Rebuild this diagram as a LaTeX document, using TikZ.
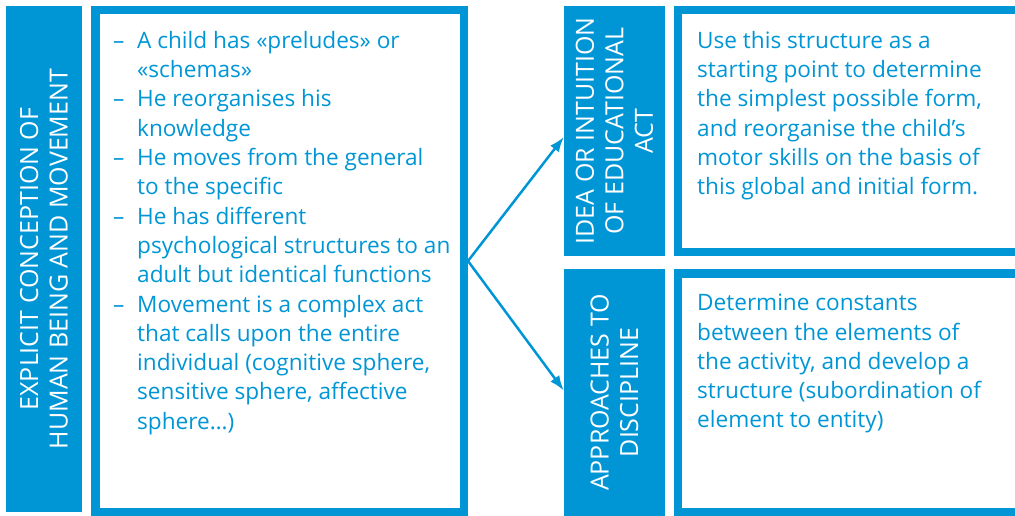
\documentclass[tikz,border=0pt]{standalone}
\usepackage{fontspec}
\setmainfont{Open Sans}
\usetikzlibrary{arrows.meta}

\definecolor{edublue}{RGB}{0,150,214}
\newcommand{\itemdash}{\makebox[24pt][l]{--}}
\newcommand{\itemgap}{\hspace*{24pt}}

\tikzset{
    bar/.style={fill=edublue, text=white, inner sep=0pt, align=center, rotate=90,
        font=\fontsize{25}{29.5}\selectfont},
    framebox/.style={draw=edublue, line width=8.5pt, inner sep=0pt},
    body/.style={text=edublue, align=left, anchor=north west, inner sep=0pt,
        font=\fontsize{22.6}{29.3}\selectfont},
    link/.style={draw=edublue, line width=2.5pt, -{Latex[length=15pt,width=11pt]}}
}

\begin{document}
\begin{tikzpicture}[x=1pt,y=-1pt]
        \useasboundingbox (0,0) rectangle (1015,516);
        \clip (0,0) rectangle (1015,516);

        \node[bar, minimum width=506pt, minimum height=76pt] (concept) at (44,259)
            {EXPLICIT CONCEPTION OF\\HUMAN BEING AND MOVEMENT};

        \node[framebox, minimum width=368.5pt, minimum height=501.5pt] (child) at (279.5,261) {};
        \node[body] (childtext) at (113,31) {
            \itemdash A child has «preludes» or\\
            \itemgap «schemas»\\
            \itemdash He reorganises his\\
            \itemgap knowledge\\
            \itemdash He moves from the general\\
            \itemgap to the specific\\
            \itemdash He has different\\
            \itemgap psychological structures to an\\
            \itemgap adult but identical functions\\
            \itemdash Movement is a complex act\\
            \itemgap that calls upon the entire\\
            \itemgap individual (cognitive sphere,\\
            \itemgap sensitive sphere, affective\\
            \itemgap sphere…)
        };

        \node[bar, minimum width=250pt, minimum height=101pt] (idea) at (614.5,131)
            {IDEA OR INTUITION\\OF EDUCATIONAL\\ACT};
        \node[framebox, minimum width=356.75pt, minimum height=241.5pt] (ideabox) at (856.6,131) {};
        \node[body] (ideatext) at (697,31) {
            Use this structure as a\\
            starting point to determine\\
            the simplest possible form,\\
            and reorganise the child’s\\
            motor skills on the basis of\\
            this global and initial form.
        };

        \node[bar, minimum width=247pt, minimum height=101pt] (approach) at (614.5,392.5)
            {APPROACHES TO\\DISCIPLINE};
        \node[framebox, minimum width=356.75pt, minimum height=238.5pt] (approachbox) at (856.6,392.5) {};
        \node[body] (approachtext) at (697,294) {
            Determine constants\\
            between the elements of\\
            the activity, and develop a\\
            structure (subordination of\\
            element to entity)
        };

        \draw[link] (child.east) -- ([yshift=-6pt]idea.north);
        \draw[link] (child.east) -- ([yshift=2pt]approach.north);

    \end{tikzpicture}
\end{document}
